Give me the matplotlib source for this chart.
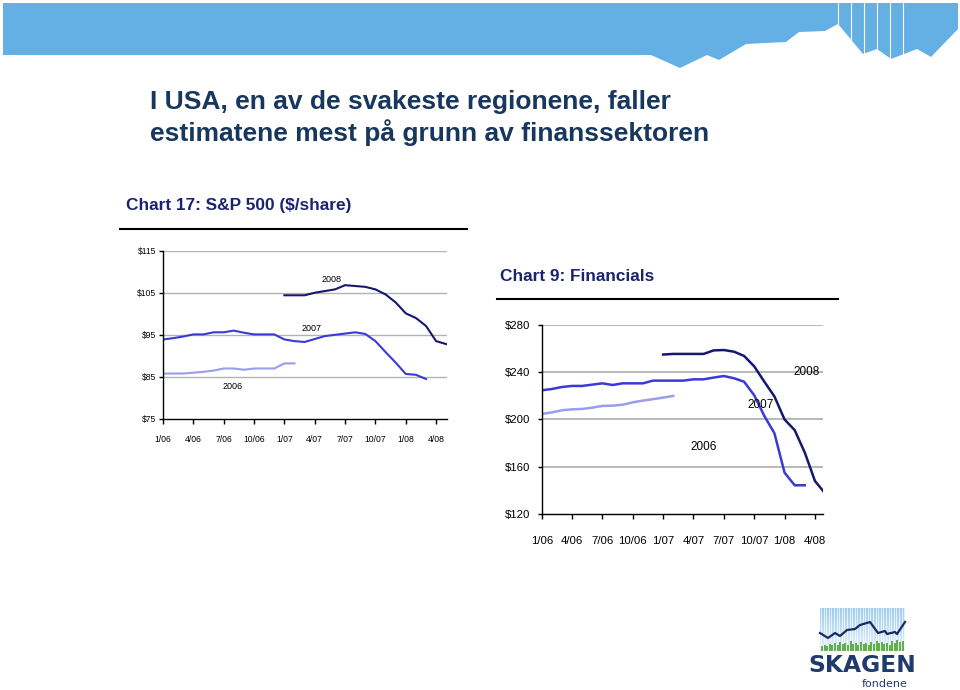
import numpy as np
import matplotlib
matplotlib.use("Agg")
import matplotlib.pyplot as plt

plt.rcParams['text.parse_math'] = False

# ---- data ----
quarter_pos = [0, 3, 6, 9, 12, 15, 18, 21, 24, 27]
quarter_labels = ["1/06", "4/06", "7/06", "10/06", "1/07", "4/07", "7/07", "10/07", "1/08", "4/08"]

# Chart 17: S&P 500 ($/share), monthly estimates
sp_months_2006 = list(range(0, 14))
sp_2006 = [85.8, 85.8, 85.8, 86.0, 86.2, 86.5, 87.0, 87.0, 86.7, 87.0, 87.0, 87.0, 88.2, 88.2]
sp_months_2007 = list(range(0, 27))
sp_2007 = [93.9, 94.2, 94.6, 95.1, 95.1, 95.6, 95.6, 96.0, 95.5, 95.1, 95.1, 95.1, 93.9, 93.5,
           93.3, 94.0, 94.7, 95.0, 95.3, 95.6, 95.2, 93.5, 90.9, 88.4, 85.7, 85.5, 84.5]
sp_months_2008 = list(range(12, 29))
sp_2008 = [104.4, 104.4, 104.4, 105.0, 105.4, 105.8, 106.8, 106.6, 106.4, 105.8, 104.6, 102.7,
           100.1, 99.0, 97.1, 93.5, 92.8]
sp_yticks = [75, 85, 95, 105, 115]
sp_ylabels = ["$75", "$85", "$95", "$105", "$115"]

# Chart 9: Financials
fin_months_2006 = list(range(0, 14))
fin_2006 = [204.7, 206.0, 207.8, 208.6, 208.9, 210.0, 211.5, 211.7, 212.5, 214.5, 216.0, 217.2,
            218.5, 220.0]
fin_months_2007 = list(range(0, 27))
fin_2007 = [224.7, 225.8, 227.5, 228.4, 228.4, 229.5, 230.6, 229.2, 230.6, 230.6, 230.6, 232.9,
            232.9, 232.9, 232.9, 234.0, 234.0, 235.5, 236.8, 234.9, 232.0, 220.5, 203.0, 188.3,
            155.0, 144.3, 144.3]
fin_months_2008 = list(range(12, 29))
fin_2008 = [255.0, 255.5, 255.5, 255.5, 255.5, 258.5, 258.8, 257.4, 253.8, 245.0, 232.0, 219.5,
            200.0, 191.0, 172.0, 148.0, 137.5]
fin_yticks = [120, 160, 200, 240, 280]
fin_ylabels = ["$120", "$160", "$200", "$240", "$280"]

c2006 = "#9a9cf0"
c2007 = "#3a3ad6"
c2008 = "#16186e"
navy_title = "#1b2370"
narrow = ["Liberation Sans Narrow", "Liberation Sans", "DejaVu Sans"]

fig = plt.figure(figsize=(9.6, 6.9), dpi=100)

# ---- slide decoration (pixel coordinates) ----
deco = fig.add_axes([0, 0, 1, 1])
deco.set_xlim(0, 960)
deco.set_ylim(690, 0)
deco.axis("off")

band_x = [3, 3, 651, 680, 707, 719, 746, 786, 799, 825, 838, 863, 877, 891, 917, 931, 958, 958]
band_y = [3, 55, 55, 68, 55, 60, 44, 42, 32, 31, 24, 54, 49, 59, 49, 57, 29, 3]
deco.fill(band_x, band_y, color="#64b0e4", lw=0)
for xv in [838, 851, 864, 877, 890, 903]:
    deco.plot([xv, xv], [3, 62], color="white", lw=0.8)

deco.text(150, 109, "I USA, en av de svakeste regionene, faller",
          fontsize=19, fontweight="bold", family="Liberation Sans", color="#17375e", va="baseline")
deco.text(150, 141, "estimatene mest på grunn av finanssektoren",
          fontsize=19, fontweight="bold", family="Liberation Sans", color="#17375e", va="baseline")

deco.text(126, 210, "Chart 17: S&P 500 ($/share)", fontsize=12.4, fontweight="bold",
          family=narrow, color=navy_title, va="baseline")
deco.plot([120, 467], [229, 229], color="black", lw=1.5)
deco.text(500, 281, "Chart 9: Financials", fontsize=12.4, fontweight="bold",
          family=narrow, color=navy_title, va="baseline")
deco.plot([497, 838], [299, 299], color="black", lw=1.5)

# logo
grad = np.linspace(0, 1, 50).reshape(-1, 1)
deco.imshow(grad, extent=[820, 905, 651, 608], cmap=matplotlib.colors.LinearSegmentedColormap.from_list(
    "lg", ["#9fcbee", "#e6f1fb"]), aspect="auto", zorder=1)
for xv in np.arange(821, 905, 2.6):
    deco.plot([xv, xv], [608, 651], color="white", lw=0.5, zorder=2)
green_h = [3, 4, 3, 5, 4, 6, 4, 7, 5, 6, 4, 8, 5, 6, 4, 7, 5, 6, 4, 7, 5, 8, 6, 7, 5, 6, 4, 8, 6, 9, 7, 8]
for i, h in enumerate(green_h):
    xv = 822 + i * 2.6
    deco.plot([xv, xv], [650, 650 - h], color="#5fae46", lw=1.4, zorder=3)
logo_x = [820, 828, 835, 840, 847, 855, 860, 870, 878, 885, 887, 895, 897, 905]
logo_y = [633, 638, 633, 636, 630, 629, 625, 622, 633, 631, 634, 632, 634, 622]
deco.plot(logo_x, logo_y, color="#1a2a5e", lw=1.6, zorder=4)
deco.text(862, 665, "SKAGEN", fontsize=16.8, fontweight="bold", family="DejaVu Sans",
          color="#1f3a6b", ha="center", va="center")
deco.text(908, 684, "fondene", fontsize=8, family="DejaVu Sans", color="#1f3a6b",
          ha="right", va="center")


def style_axes(ax, yticks, ylabels, ylim, xmax, fs, xpad, ypad, lw_grid):
    ax.set_ylim(*ylim)
    ax.set_xlim(0, xmax)
    ax.set_yticks(yticks)
    ax.set_yticklabels(ylabels, family=narrow, fontsize=fs)
    ax.set_xticks(quarter_pos)
    ax.set_xticklabels(quarter_labels, family=narrow, fontsize=fs)
    ax.tick_params(axis="x", length=3.5, width=1, pad=xpad, direction="out")
    ax.tick_params(axis="y", length=3, width=1, pad=ypad, direction="out")
    for yv in yticks[1:]:
        ax.axhline(yv, color="#b3b3b3", lw=lw_grid, zorder=0)
    for s in ["top", "right"]:
        ax.spines[s].set_visible(False)
    for s in ["left", "bottom"]:
        ax.spines[s].set_color("black")
        ax.spines[s].set_linewidth(1.0)
    ax.patch.set_alpha(0)


# ---- Chart 17 ----
ax1 = fig.add_axes([0.1698, 0.3928, 0.2961, 0.2439])
ax1.plot(sp_months_2006, sp_2006, color=c2006, lw=1.5)
ax1.plot(sp_months_2007, sp_2007, color=c2007, lw=1.5)
ax1.plot(sp_months_2008, sp_2008, color=c2008, lw=1.5)
style_axes(ax1, sp_yticks, sp_ylabels, (75, 115), 28.1, 6.2, 8, 2, 1.0)
ax1.text(16.7, 108.2, "2008", family=narrow, fontsize=6.5, ha="center", va="center")
ax1.text(14.7, 96.6, "2007", family=narrow, fontsize=6.5, ha="center", va="center")
ax1.text(6.9, 82.7, "2006", family=narrow, fontsize=6.5, ha="center", va="center")

# ---- Chart 9 ----
ax2 = fig.add_axes([0.5643, 0.2551, 0.2930, 0.2739])
ax2.plot(fin_months_2006, fin_2006, color=c2006, lw=1.8)
ax2.plot(fin_months_2007, fin_2007, color=c2007, lw=1.8)
ax2.plot(fin_months_2008, fin_2008, color=c2008, lw=1.8)
style_axes(ax2, fin_yticks, fin_ylabels, (120, 280), 27.8, 8.2, 12, 5, 1.3)
ax2.text(26.2, 240.5, "2008", family=narrow, fontsize=8.5, ha="center", va="center")
ax2.text(21.6, 212.3, "2007", family=narrow, fontsize=8.5, ha="center", va="center")
ax2.text(16.0, 177, "2006", family=narrow, fontsize=8.5, ha="center", va="center")

fig.savefig("out.png", dpi=100)
